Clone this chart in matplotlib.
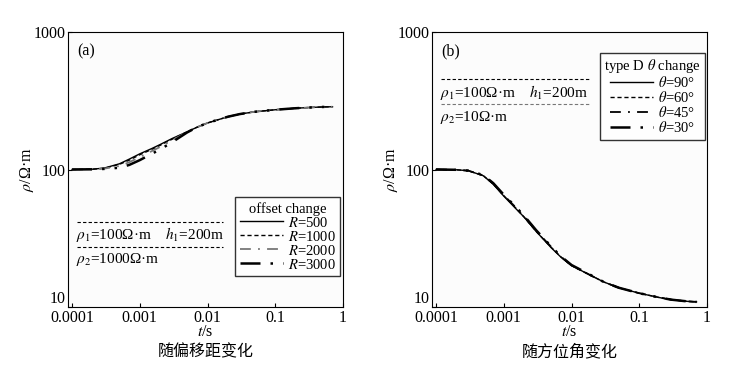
import numpy as np
import matplotlib
matplotlib.use('Agg')
from matplotlib import pyplot as plt

plt.rcParams['font.family'] = ['Liberation Serif', 'DejaVu Serif']
plt.rcParams['mathtext.fontset'] = 'stix'

# time samples (s)
t = [1e-4, 2e-4, 3e-4, 5e-4, 7e-4, 1e-3, 1.5e-3, 2e-3, 3e-3, 5e-3, 7e-3,
     1e-2, 2e-2, 3e-2, 5e-2, 0.1, 0.2, 0.3, 0.5, 0.7]

# (a) offset change
rho_r500 = [100, 100.5, 102.5, 110, 119, 130, 142, 152, 168, 188, 203,
            218, 242, 253, 263, 272, 279, 282, 285, 286]
rho_r1000 = [100, 100.5, 102, 109, 117, 128, 140, 150, 166, 188, 203,
             218, 242, 253, 263, 272, 279, 282, 285, 286]
rho_r2000 = [100, 100.4, 101.5, 106, 113, 123, 136, 146, 163, 187, 203,
             218, 242, 253, 263, 272, 279, 282, 285, 286]
rho_r3000 = [100, 100.3, 101, 103, 108, 117, 130, 140, 158, 186, 203,
             218, 242, 253, 263, 272, 279, 282, 285, 286]
labels_a = ['$R$=500', '$R$=1000', '$R$=2000', '$R$=3000']

# (b) azimuth change
rho_t90 = [100, 99.5, 98, 90, 78, 64, 52, 45, 35.5, 27, 23,
           20, 16.8, 15.2, 13.8, 12.6, 11.7, 11.3, 11.0, 10.9]
rho_t60 = [100, 99.5, 98, 90, 78.5, 64.5, 52.5, 45, 35.5, 27.2, 23.1,
           20, 16.8, 15.2, 13.8, 12.6, 11.7, 11.3, 11.0, 10.9]
rho_t45 = [100, 99.5, 98, 90.5, 79, 65, 53, 45.5, 35.8, 27.4, 23.2,
           20.1, 16.8, 15.2, 13.8, 12.6, 11.7, 11.3, 11.0, 10.9]
rho_t30 = [100, 99.5, 98.2, 91, 79.5, 65.5, 53.5, 46, 36.2, 27.6, 23.3,
           20.2, 16.9, 15.2, 13.8, 12.6, 11.7, 11.3, 11.0, 10.9]
labels_b = [r'$\theta$=90°', r'$\theta$=60°', r'$\theta$=45°', r'$\theta$=30°']

styles = [dict(color='black', lw=1.0, ls='-'),
          dict(color='black', lw=1.0, ls=(0, (3, 2))),
          dict(color='#777777', lw=1.3, ls=(0, (6, 4, 1, 4))),
          dict(color='black', lw=1.8, ls=(0, (8, 4, 1, 4, 1, 4)))]

fig = plt.figure(figsize=(7.46, 3.70), dpi=100)
fig.patch.set_facecolor('white')
ax1 = fig.add_axes([68 / 746, 63 / 370, 275 / 746, 275 / 370])
ax2 = fig.add_axes([432 / 746, 63 / 370, 275 / 746, 275 / 370])

for ax in (ax1, ax2):
    ax.set_xscale('log')
    ax.set_yscale('log')
    ax.set_facecolor('#fcfcfc')
    ax.set_xlim(10 ** -4.06, 1)
    ax.set_ylim(10, 1000)
    ax.set_xticks([1e-4, 1e-3, 1e-2, 0.1, 1])
    ax.set_xticklabels(['0.0001', '0.001', '0.01', '0.1', '1'])
    ax.set_yticks([10, 100, 1000])
    ax.set_yticklabels(['10', '100', '1000'])
    ax.minorticks_off()
    ax.tick_params(direction='in', length=3, labelsize=11.5, pad=2)
    ax.get_yticklabels()[0].set_verticalalignment('bottom')
    ax.set_xlabel('$t$/s', fontsize=11.5, labelpad=-1)
    ax.set_ylabel(r'$\rho$/Ω·m', fontsize=11.5, labelpad=-2)

for rho, lab, st in zip([rho_r500, rho_r1000, rho_r2000, rho_r3000], labels_a, styles):
    ax1.plot(t, rho, label=lab, **st)
for rho, lab, st in zip([rho_t90, rho_t60, rho_t45, rho_t30], labels_b, styles):
    st = dict(st)
    st['color'] = 'black'
    ax2.plot(t, rho, label=lab, **st)

leg1 = ax1.legend(title='offset change', loc='lower right', bbox_to_anchor=(0.989, 0.113),
                  fontsize=10.5, title_fontsize=10.5, frameon=True, fancybox=False,
                  edgecolor='black', handlelength=3.0, handletextpad=0.3,
                  labelspacing=0.0, borderpad=0.3, borderaxespad=0)
leg1.get_frame().set_linewidth(1.0)
leg2 = ax2.legend(title=r'type D $\theta$ change', loc='upper right', bbox_to_anchor=(0.993, 0.924),
                  fontsize=10.5, title_fontsize=10.5, frameon=True, fancybox=False,
                  edgecolor='black', handlelength=3.0, handletextpad=0.3,
                  labelspacing=0.0, borderpad=0.3, borderaxespad=0)
leg2.get_frame().set_linewidth(1.0)

# model annotations
ax1.text(0.035, 0.96, '(a)', transform=ax1.transAxes, fontsize=11.5, va='top')
ax1.plot([10 ** -3.926, 10 ** -1.77], [41.5, 41.5], color='black', lw=0.8, ls=(0, (3, 2)))
ax1.plot([10 ** -3.926, 10 ** -1.77], [27.3, 27.3], color='black', lw=0.8, ls=(0, (3, 2)))
ax1.text(10 ** -3.94, 33.5, r'$\rho_1$=100Ω·m    $h_1$=200m', fontsize=11, va='center')
ax1.text(10 ** -3.94, 22.0, r'$\rho_2$=1000Ω·m', fontsize=11, va='center')

ax2.text(0.035, 0.96, '(b)', transform=ax2.transAxes, fontsize=11.5, va='top')
ax2.plot([10 ** -3.92, 10 ** -1.74], [455, 455], color='black', lw=0.8, ls=(0, (3, 2)))
ax2.plot([10 ** -3.92, 10 ** -1.74], [299, 299], color='#777777', lw=0.8, ls=(0, (3, 2)))
ax2.text(10 ** -3.94, 365, r'$\rho_1$=100Ω·m    $h_1$=200m', fontsize=11, va='center')
ax2.text(10 ** -3.94, 240, r'$\rho_2$=10Ω·m', fontsize=11, va='center')

fig.text(206 / 746, 1 - 352 / 370, '随偏移距变化', family=['Noto Sans CJK SC', 'DejaVu Sans'],
         fontsize=11.5, ha='center', va='center')
fig.text(570 / 746, 1 - 352 / 370, '随方位角变化', family=['Noto Sans CJK SC', 'DejaVu Sans'],
         fontsize=11.5, ha='center', va='center')

fig.savefig('out.png', dpi=100)
